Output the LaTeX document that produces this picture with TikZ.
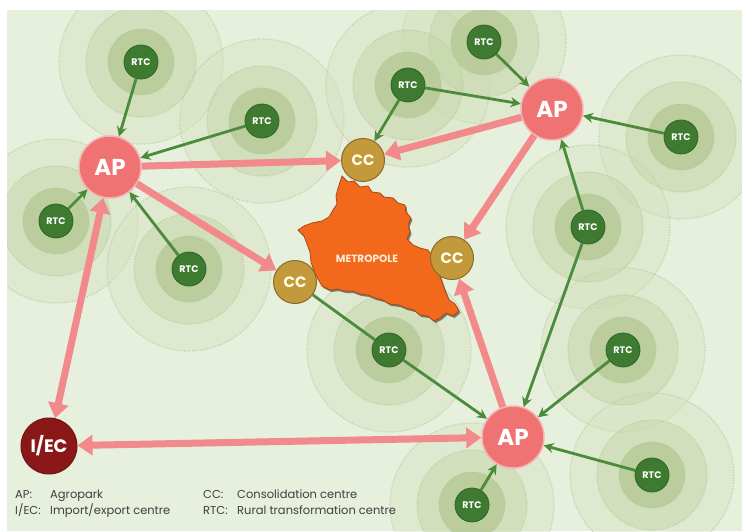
\documentclass[tikz,border=0pt]{standalone}
\usepackage{fontspec}
\setmainfont{Poppins}
\usetikzlibrary{arrows.meta,shadows}

\definecolor{bggreen}{HTML}{E7EFDD}
\definecolor{ringA}{HTML}{D3E2BD}
\definecolor{ringB}{HTML}{C6D7A9}
\definecolor{ringC}{HTML}{B4C792}
\definecolor{ringedge}{HTML}{B3C598}
\definecolor{rtcgreen}{HTML}{3E7B30}
\definecolor{feedgreen}{HTML}{4C8B3C}
\definecolor{appink}{HTML}{EF7373}
\definecolor{flowpink}{HTML}{F2898A}
\definecolor{ccgold}{HTML}{C39A3B}
\definecolor{iecred}{HTML}{8B1818}
\definecolor{metroorange}{HTML}{F2691C}
\definecolor{legendgray}{HTML}{3F3F3F}

\begin{document}
\begin{tikzpicture}[x=1pt,y=-1pt,
  ap/.style={circle,fill=appink,draw=appink!55!white,line width=1.5pt,minimum size=62pt,inner sep=0pt,text=white,font=\fontsize{23}{23}\selectfont\bfseries},
  rtc/.style={circle,fill=rtcgreen,draw=rtcgreen!80!black,line width=0.8pt,minimum size=34pt,inner sep=0pt,text=white,font=\fontsize{9.5}{9.5}\selectfont\bfseries},
  cc/.style={circle,fill=ccgold,draw=ccgold!70!black,line width=1pt,minimum size=43pt,inner sep=0pt,text=white!90!yellow,font=\fontsize{15}{15}\selectfont\bfseries},
  iec/.style={circle,fill=iecred,draw=iecred!80!black,line width=1pt,minimum size=56pt,inner sep=0pt,text=white,font=\fontsize{18}{18}\selectfont\bfseries},
  flow/.style={line width=7pt,flowpink,-{Triangle[width=20pt,length=15pt]}},
  flow2/.style={line width=7pt,flowpink,{Triangle[width=20pt,length=15pt]}-{Triangle[width=20pt,length=15pt]}},
  feed/.style={line width=2.8pt,feedgreen,-{Stealth[length=10pt,width=10pt]}},
  legend/.style={anchor=base west,inner sep=0pt,text=legendgray,font=\fontsize{11.5}{11.5}\selectfont}]

  \def\rtclist{r1/141/62,r2/262/121,r3/56/221,r4/189/269,r5/484/42,r6/408/85,r7/681/137,r8/588/227,r9/389/350,r10/623/350,r11/652/475,r12/472/505}

  \useasboundingbox (0,0) rectangle (742,531);
  \fill[white] (0,0) rectangle (742,531);
  \fill[bggreen] (7,10) rectangle (742,531);

  % Catchment rings
  \begin{scope}
    \clip (7,10) rectangle (742,531);
    \foreach \r/\c/\o in {82/ringA/0.4,55/ringB/0.5,33/ringC/0.75}
      \foreach \n/\x/\y in \rtclist
        \filldraw[fill=\c,fill opacity=\o,draw=ringedge,draw opacity=0.7,line width=1.3pt,dash pattern=on 1pt off 1.6pt] (\x,\y) circle[radius=\r];
  \end{scope}

  % Metropole
  \filldraw[fill=metroorange,draw=metroorange!70!black,line width=0.8pt,
    drop shadow={shadow xshift=1.5pt,shadow yshift=-2pt,fill=black!80,opacity=0.6}]
    (342,176) -- (348,182) -- (354,181) -- (360,187) -- (368,186) -- (372,192) -- (380,193) -- (384,197)
    -- (393,198) -- (398,203) -- (405,205) -- (406,212) -- (411,218) -- (408,225) -- (410,232) -- (407,239)
    -- (413,245) -- (420,248) -- (428,250) -- (433,257) -- (436,268) -- (440,276) -- (443,285) -- (446,293)
    -- (449,300) -- (455,304) -- (459,311) -- (453,316) -- (446,313) -- (440,318) -- (434,321) -- (428,316)
    -- (420,315) -- (414,310) -- (406,308) -- (399,305) -- (390,304) -- (383,300) -- (375,298) -- (368,295)
    -- (360,294) -- (352,291) -- (345,291) -- (337,289) -- (330,290) -- (322,286) -- (318,279) -- (314,271)
    -- (311,262) -- (310,252) -- (307,244) -- (304,236) -- (298,230) -- (304,226) -- (312,223) -- (322,221)
    -- (329,217) -- (333,210) -- (337,204) -- (336,196) -- (338,188) -- cycle;
  \node[text=orange!15!white,font=\fontsize{10.5}{10.5}\selectfont\bfseries] (metro) at (367,259) {METROPOLE};

  % Centres
  \node[ap] (ap1) at (110,167) {AP};
  \node[ap] (ap2) at (552,109) {AP};
  \node[ap] (ap3) at (513,437) {AP};
  \node[iec] (iec) at (49,446) {I/EC};
  \node[cc] (cc1) at (363,160) {CC};
  \node[cc] (cc2) at (295,282) {CC};
  \node[cc] (cc3) at (452,258) {CC};
  \foreach \n/\x/\y in \rtclist
    \node[rtc] (\n) at (\x,\y) {RTC};

  % Rural feeder links
  \draw[feed] (r1) -- (ap1);
  \draw[feed] (r2) -- (ap1);
  \draw[feed] (r3) -- (ap1);
  \draw[feed] (r4) -- (ap1);
  \draw[feed] (r5) -- (ap2);
  \draw[feed] (r6) -- (ap2);
  \draw[feed] (r6) -- (cc1);
  \draw[feed] (r7) -- (ap2);
  \draw[feed] (r8) -- (ap2);
  \draw[feed] (r8) -- (ap3);
  \draw[feed] (r9) -- (ap3);
  \draw[feed,-] (r9) -- (cc2);
  \draw[feed] (r10) -- (ap3);
  \draw[feed] (r11) -- (ap3);
  \draw[feed] (r12) -- (ap3);

  % Agropark flows
  \draw[flow] (ap1) -- (cc1);
  \draw[flow] (ap1) -- (cc2);
  \draw[flow] (ap2) -- (cc1);
  \draw[flow] (ap2) -- (cc3);
  \draw[flow] (ap3) -- (cc3);
  \draw[flow2] (iec) -- (ap1);
  \draw[flow2] (iec) -- (ap3);

  % Legend
  \node[legend] (kap) at (15,498) {AP:};
  \node[legend] (tap) at (50,498) {Agropark};
  \node[legend] (kiec) at (15,514) {I/EC:};
  \node[legend] (tiec) at (50,514) {Import/export centre};
  \node[legend] (kcc) at (203,498) {CC:};
  \node[legend] (tcc) at (237,498) {Consolidation centre};
  \node[legend] (krtc) at (203,514) {RTC:};
  \node[legend] (trtc) at (237,514) {Rural transformation centre};
\end{tikzpicture}
\end{document}
